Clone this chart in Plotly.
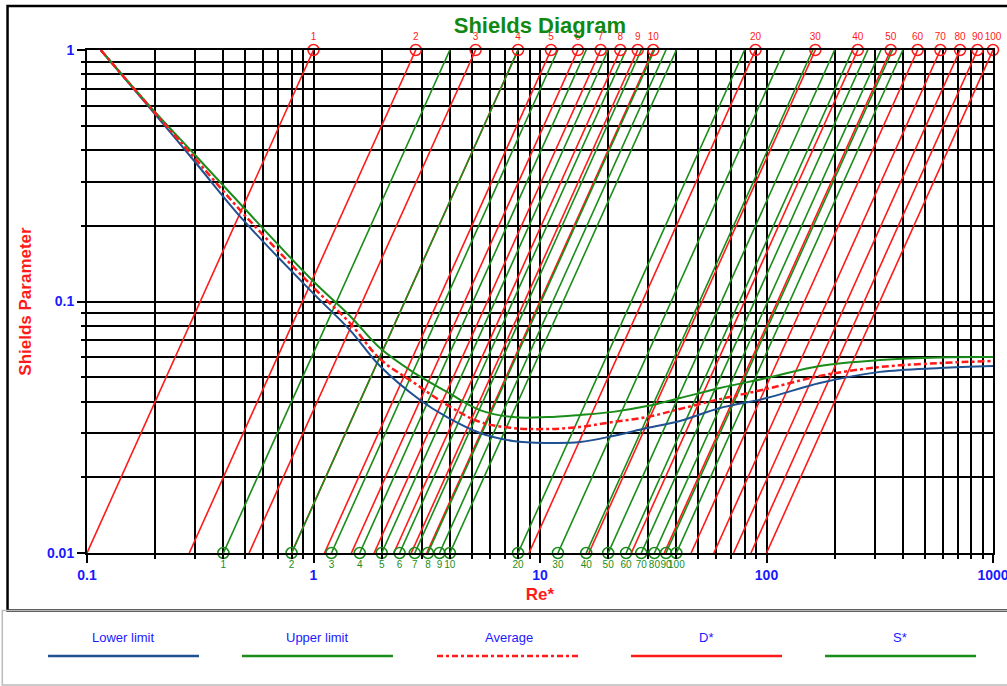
import plotly.graph_objects as go

# ---------------- data ----------------
re_lower = [0.115, 0.1996, 0.300, 0.489, 0.995, 1.449, 1.966, 2.953, 3.886, 5.433, 7.60, 10.74, 15.02, 21.0, 29.7, 41.5, 62.3, 100, 172, 317, 583, 1000]
th_lower = [1.0, 0.5565, 0.3587, 0.211, 0.108, 0.0770, 0.0554, 0.0406, 0.0347, 0.0300, 0.0279, 0.0274, 0.0276, 0.0292, 0.0314, 0.0335, 0.0377, 0.0413, 0.0474, 0.0525, 0.0544, 0.0554]

re_upper = [0.115, 0.1996, 0.300, 0.489, 0.995, 1.449, 1.966, 2.750, 3.886, 5.433, 7.60, 10.74, 15.02, 21.0, 29.7, 41.5, 62.3, 100, 172, 317, 583, 1000]
th_upper = [1.0, 0.567, 0.3824, 0.2375, 0.1206, 0.0876, 0.0653, 0.0524, 0.0437, 0.0370, 0.0347, 0.0347, 0.0354, 0.0364, 0.0384, 0.0413, 0.0453, 0.0496, 0.0554, 0.0585, 0.0599, 0.0601]

re_avg = [0.115, 0.1996, 0.300, 0.489, 0.995, 1.449, 1.966, 2.750, 3.886, 5.433, 7.60, 10.74, 15.02, 21.0, 29.7, 41.5, 62.3, 100, 172, 317, 583, 1000]
th_avg = [1.0, 0.562, 0.3703, 0.2238, 0.1142, 0.0821, 0.0591, 0.0478, 0.0388, 0.0332, 0.0314, 0.0311, 0.0317, 0.0332, 0.0347, 0.0374, 0.0409, 0.0449, 0.0506, 0.0549, 0.0569, 0.0580]

d_star = [1, 2, 3, 4, 5, 6, 7, 8, 9, 10, 20, 30, 40, 50, 60, 70, 80, 90, 100]
s_star = [1, 2, 3, 4, 5, 6, 7, 8, 9, 10, 20, 30, 40, 50, 60, 70, 80, 90, 100]

theta_bounds = [0.01, 1.0]

x_tickvals = [0.1, 1, 10, 100, 1000]
x_ticktext = ["0.1", "1", "10", "100", "1000"]
y_tickvals = [0.01, 0.1, 1]
y_ticktext = ["0.01", "0.1", "1"]
minor_digits = [2, 3, 4, 5, 6, 7, 8, 9]
x_decades = [0.1, 1, 10, 100]
y_decades = [0.01, 0.1]

legend_names = ["Lower limit", "Upper limit", "Average", "D*", "S*"]

# ---------------- styles ----------------
RED = "#ff1a1a"
GREEN = "#1a8c1a"
BLUE = "#1f5090"
TXT_BLUE = "#1a1aff"
FONT = "Liberation Sans, Arial, sans-serif"

fig = go.Figure()

# D* lines: theta = Re*^2 / D*^3
for d in d_star:
    xs = [d ** 1.5 * t ** 0.5 for t in theta_bounds]
    fig.add_trace(go.Scatter(x=xs, y=theta_bounds, mode="lines",
                             line=dict(color=RED, width=1.6), showlegend=False, hoverinfo="skip"))
# S* lines: theta = (Re*/(4 S*))^2
for s in s_star:
    xs = [4 * s * t ** 0.5 for t in theta_bounds]
    fig.add_trace(go.Scatter(x=xs, y=theta_bounds, mode="lines",
                             line=dict(color=GREEN, width=1.6), showlegend=False, hoverinfo="skip"))

# curves
fig.add_trace(go.Scatter(x=re_lower, y=th_lower, mode="lines", line=dict(color=BLUE, width=2, shape="spline"),
                         showlegend=False))
fig.add_trace(go.Scatter(x=re_upper, y=th_upper, mode="lines", line=dict(color=GREEN, width=2, shape="spline"),
                         showlegend=False))
fig.add_trace(go.Scatter(x=re_avg, y=th_avg, mode="lines",
                         line=dict(color=RED, width=2.5, shape="spline", dash="7px,3px,3px,3px"),
                         showlegend=False))

# D* markers at top
fig.add_trace(go.Scatter(x=[d ** 1.5 for d in d_star], y=[1.0] * len(d_star), mode="markers+text",
                         marker=dict(symbol="circle-open", size=11, color=RED, line=dict(width=1.5)),
                         text=[str(d) for d in d_star], textposition="top center",
                         textfont=dict(color=RED, size=10, family=FONT),
                         cliponaxis=False, showlegend=False))
# S* markers at bottom
fig.add_trace(go.Scatter(x=[0.4 * s for s in s_star], y=[0.01] * len(s_star), mode="markers+text",
                         marker=dict(symbol="circle-open", size=11, color=GREEN, line=dict(width=1.5)),
                         text=[str(s) for s in s_star], textposition="bottom center",
                         textfont=dict(color=GREEN, size=10, family=FONT),
                         cliponaxis=False, showlegend=False))

x_minor = [k * dec for dec in x_decades for k in minor_digits]
y_minor = [k * dec for dec in y_decades for k in minor_digits]

def axis_style(minor_vals):
    return dict(
        type="log", showgrid=True, gridcolor="black", gridwidth=1.8,
        showline=True, linecolor="black", linewidth=2, mirror=True,
        ticks="outside", ticklen=8, tickwidth=2, tickcolor="black",
        tickfont=dict(color=TXT_BLUE, size=14, family=FONT, weight="bold"),
        ticklabeloverflow="allow",
        zeroline=False,
        minor=dict(tickmode="array", tickvals=minor_vals, showgrid=True, gridcolor="black",
                   gridwidth=1.5, ticks="outside", ticklen=4, tickcolor="black", tickwidth=1.5),
    )

fig.update_layout(
    width=1007, height=686,
    margin=dict(l=87, r=14, t=50, b=133, autoexpand=False),
    paper_bgcolor="white", plot_bgcolor="white",
    showlegend=False,
    title=dict(text="<b>Shields Diagram</b>", x=0.5362, xanchor="center", y=0.9636, yanchor="middle",
               font=dict(color="#118811", size=22, family=FONT)),
    xaxis=dict(axis_style(x_minor), range=[-1, 3], tickmode="array", tickvals=x_tickvals, ticktext=x_ticktext,
               title=dict(text="<b>Re*</b>", font=dict(color=RED, size=17, family=FONT), standoff=6)),
    yaxis=dict(axis_style(y_minor), range=[-2, 0], tickmode="array", tickvals=y_tickvals, ticktext=y_ticktext,
               title=dict(text="<b>Shields Parameter</b>", font=dict(color=RED, size=17, family=FONT), standoff=11)),
)

# outer frame and legend panel
shapes = [
    dict(type="rect", xref="paper", yref="paper", x0=-0.0877, x1=1.03, y0=-0.1143, y1=1.0875,
         line=dict(color="black", width=2.5), layer="below"),
    dict(type="rect", xref="paper", yref="paper", x0=-0.0935, x1=1.03, y0=-0.2626, y1=-0.1143,
         line=dict(color="#bbbbbb", width=1.5), layer="below"),
]
leg_x = [(-0.0430, 0.1236), (0.1711, 0.3377), (0.3863, 0.5453), (0.6004, 0.7671), (0.8146, 0.9812)]
leg_style = [dict(color=BLUE, width=2.5), dict(color=GREEN, width=2.5),
             dict(color=RED, width=2.5, dash="6px,3px,3px,3px"), dict(color=RED, width=2.5),
             dict(color=GREEN, width=2.5)]
annotations = []
for name, (a, b), st in zip(legend_names, leg_x, leg_style):
    shapes.append(dict(type="line", xref="paper", yref="paper", x0=a, x1=b, y0=-0.2048, y1=-0.2048, line=st))
    annotations.append(dict(text=name, xref="paper", yref="paper", x=(a + b) / 2, y=-0.167,
                            showarrow=False, xanchor="center", yanchor="middle",
                            font=dict(color=TXT_BLUE, size=13, family="Liberation Sans Narrow, Arial Narrow, sans-serif")))
fig.update_layout(shapes=shapes, annotations=annotations)

fig.write_html("out.html", config={"displayModeBar": False},
               post_script="document.body.style.margin='0';document.body.style.padding='0';")
